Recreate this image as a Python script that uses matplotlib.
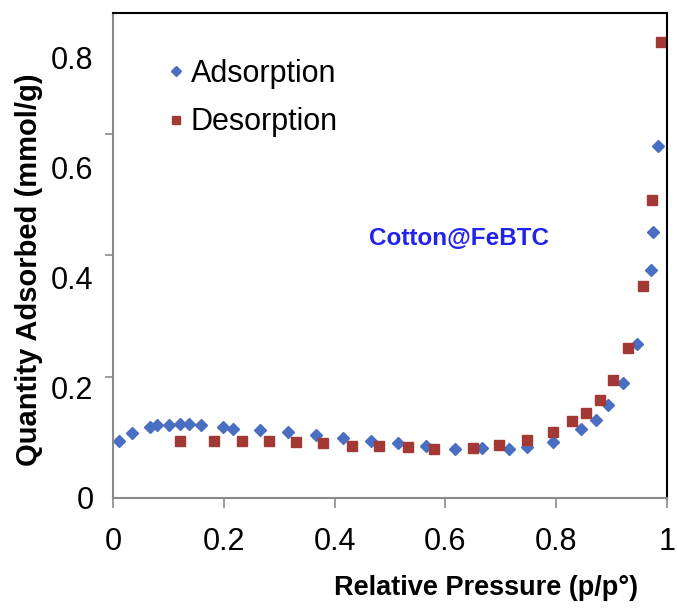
import matplotlib
matplotlib.use("Agg")
from matplotlib import pyplot as plt

# adsorption branch (blue diamonds)
ads_x = [0.011, 0.034, 0.067, 0.080, 0.101, 0.121, 0.137, 0.159, 0.198, 0.216,
         0.265, 0.316, 0.367, 0.416, 0.466, 0.514, 0.565, 0.617, 0.666, 0.715,
         0.747, 0.795, 0.845, 0.872, 0.894, 0.921, 0.946, 0.971, 0.975, 0.984]
ads_y = [0.103, 0.117, 0.128, 0.132, 0.132, 0.135, 0.135, 0.132, 0.128, 0.125,
         0.123, 0.120, 0.115, 0.108, 0.103, 0.099, 0.094, 0.089, 0.090, 0.089,
         0.092, 0.101, 0.125, 0.142, 0.168, 0.209, 0.279, 0.413, 0.483, 0.639]

# desorption branch (red squares)
des_x = [0.121, 0.182, 0.232, 0.281, 0.331, 0.379, 0.432, 0.480, 0.532, 0.579,
         0.649, 0.697, 0.747, 0.795, 0.829, 0.854, 0.879, 0.903, 0.930, 0.956,
         0.973, 0.990]
des_y = [0.104, 0.104, 0.104, 0.104, 0.102, 0.099, 0.095, 0.095, 0.093, 0.089,
         0.090, 0.096, 0.105, 0.120, 0.139, 0.154, 0.177, 0.214, 0.273, 0.384,
         0.541, 0.828]

xticks = [0, 0.2, 0.4, 0.6, 0.8, 1]
xticklabels = ["0", "0.2", "0.4", "0.6", "0.8", "1"]
yticks = [0, 0.2, 0.4, 0.6, 0.8]
yticklabels = ["0", "0.2", "0.4", "0.6", "0.8"]
ymarks = [0, 0.22, 0.44, 0.66]

plt.rcParams["font.family"] = ["Liberation Sans", "DejaVu Sans"]

blue = "#4a6fc2"
red = "#a23934"
gray = "#8a8a8a"

fig = plt.figure(figsize=(6.77, 6.09), dpi=100)
ax = fig.add_axes([0.1669, 0.1823, 0.8183, 0.7964])

ax.plot(ads_x, ads_y, ls="none", marker="D", ms=6.0, color=blue, mec=blue, label="Adsorption")
ax.plot(des_x, des_y, ls="none", marker="s", ms=7.2, color=red, mec=red, label="Desorption")

ax.set_xlim(0, 1)
ax.set_ylim(0, 0.88)

ax.set_xticks(xticks)
ax.set_xticklabels(xticklabels)
ax.set_yticks(yticks)
ax.set_yticklabels(yticklabels)
ax.set_yticks(ymarks, minor=True)

ax.tick_params(axis="x", which="major", direction="out", length=7, width=1.2,
               color=gray, labelsize=22, pad=14)
ax.tick_params(axis="y", which="major", length=0, labelsize=22, pad=14)
ax.tick_params(axis="y", which="minor", direction="out", length=6, width=1.2, color=gray)

for side in ["left", "bottom"]:
    ax.spines[side].set_color(gray)
    ax.spines[side].set_linewidth(1.5)
for side in ["top", "right"]:
    ax.spines[side].set_color("black")
    ax.spines[side].set_linewidth(1.5)

ax.set_xlabel("Relative Pressure (p/p°)", fontsize=19.5, fontweight="bold")
ax.set_ylabel("Quantity Adsorbed (mmol/g)", fontsize=21, fontweight="bold")
ax.xaxis.set_label_coords(0.673, -0.158)
ax.yaxis.set_label_coords(-0.127, 0.47)

ax.text(0.624, 0.535, "Cotton@FeBTC", transform=ax.transAxes, color="#2222ee",
        fontsize=17.5, fontweight="bold", ha="center", va="center")

leg = ax.legend(loc="upper left", bbox_to_anchor=(0.08, 0.93), frameon=False,
                fontsize=22, handlelength=0.4, handletextpad=0.3,
                labelspacing=0.6, markerscale=0.85, borderaxespad=0)

fig.savefig("out.png", dpi=100)
